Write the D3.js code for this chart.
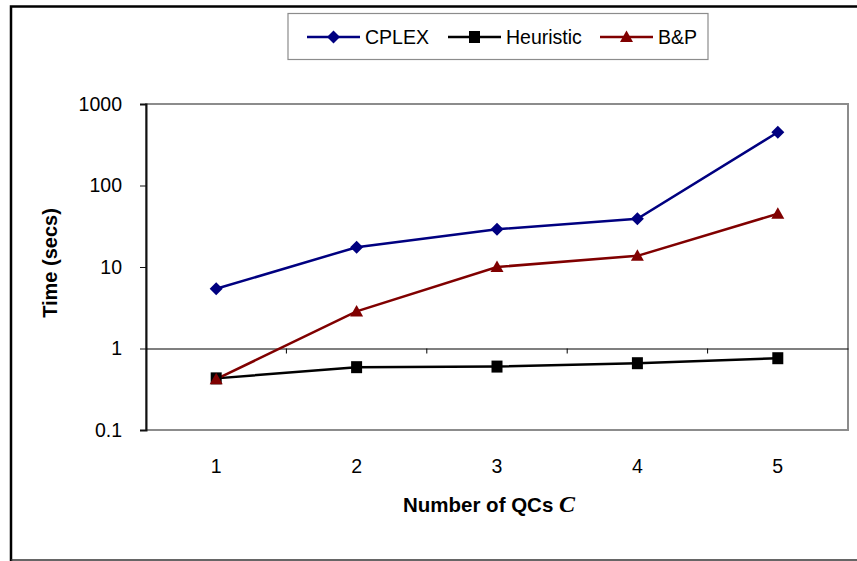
<!DOCTYPE html>
<html lang="en">
<head>
  <meta charset="UTF-8">
  <title>Time vs number of QCs</title>
  <script src="https://d3js.org/d3.v7.min.js"></script>
  <style>
    body { margin: 0; background: #fff; }
    text { font-family: Arial, "Liberation Sans", sans-serif; }
  </style>
</head>
<body>
  <script>
    // data
    let categories = [1, 2, 3, 4, 5]
    let cplex = [5.4, 17.5, 29, 39, 450]
    let heuristic = [0.43, 0.59, 0.6, 0.66, 0.76]
    let bp = [0.42, 2.85, 10, 13.7, 45]
    let yTicks = [0.1, 1, 10, 100, 1000]

    let series = [
      { name: 'CPLEX', values: cplex, color: '#000080', marker: 'diamond' },
      { name: 'Heuristic', values: heuristic, color: '#000000', marker: 'square' },
      { name: 'B&P', values: bp, color: '#800000', marker: 'triangle' }
    ]

    let W = 857, H = 561
    let svg = d3.select('body').append('svg')
      .attr('width', W)
      .attr('height', H)

    // outer chart frame
    svg.append('path')
      .attr('d', 'M11,' + (H + 5) + 'V6.5H' + (W + 5))
      .attr('fill', 'none').attr('stroke', '#000').attr('stroke-width', 2.5)
    svg.append('line')
      .attr('x1', 11).attr('x2', W + 5).attr('y1', 560).attr('y2', 560)
      .attr('stroke', '#333').attr('stroke-width', 1.5)

    let plotL = 146, plotR = 848, plotT = 104, plotB = 430

    let x = d3.scaleBand().domain(categories).range([plotL, plotR])
    let y = d3.scaleLog().domain([0.1, 1000]).range([plotB, plotT])

    // plot area border (grey)
    svg.append('rect')
      .attr('x', plotL).attr('y', plotT)
      .attr('width', plotR - plotL).attr('height', plotB - plotT)
      .attr('fill', 'none').attr('stroke', '#8c8c8c').attr('stroke-width', 2)

    // y axis
    let yAxis = svg.append('g')
      .attr('transform', 'translate(' + plotL + ',0)')
      .call(d3.axisLeft(y).tickValues(yTicks).tickSize(6).tickPadding(18)
        .tickFormat(d => d3.format('~g')(d)))
    yAxis.select('.domain').attr('stroke', '#111').attr('stroke-width', 2)
    yAxis.selectAll('.tick line').attr('stroke', '#111')
    yAxis.selectAll('text').attr('font-size', 19.5).attr('fill', '#000')

    // x axis crossing at y = 1
    let xAxis = svg.append('g')
      .attr('transform', 'translate(0,' + y(1) + ')')
      .call(d3.axisBottom(x).tickSize(0).tickFormat(''))
    xAxis.select('.domain').attr('stroke', '#000').attr('stroke-width', 1.2)
    // tick marks between categories
    svg.append('g').selectAll('line')
      .data(categories.slice(1))
      .enter().append('line')
      .attr('x1', d => x(d)).attr('x2', d => x(d))
      .attr('y1', y(1)).attr('y2', y(1) + 5)
      .attr('stroke', '#000')

    // category labels at the bottom
    svg.append('g').selectAll('text')
      .data(categories)
      .enter().append('text')
      .attr('x', d => x(d) + x.bandwidth() / 2)
      .attr('y', 473)
      .attr('text-anchor', 'middle')
      .attr('font-size', 19.5)
      .text(d => d)

    // lines
    let line = d3.line()
      .x((d, i) => x(categories[i]) + x.bandwidth() / 2)
      .y(d => y(d))

    series.forEach(s => {
      svg.append('path')
        .datum(s.values)
        .attr('d', line)
        .attr('fill', 'none')
        .attr('stroke', s.color)
        .attr('stroke-width', 2.5)
    })

    function markerPath(type) {
      if (type === 'diamond') return 'M0,-6.5L6.5,0L0,6.5L-6.5,0Z'
      if (type === 'square') return 'M-5.5,-6H5.5V6H-5.5Z'
      return 'M0,-6.5L6.5,5L-6.5,5Z'
    }

    series.forEach(s => {
      svg.append('g').selectAll('path')
        .data(s.values)
        .enter().append('path')
        .attr('d', markerPath(s.marker))
        .attr('transform', (d, i) => 'translate(' + (x(categories[i]) + x.bandwidth() / 2) + ',' + y(d) + ')')
        .attr('fill', s.color)
    })

    // axis titles
    svg.append('text')
      .attr('transform', 'translate(57,263) rotate(-90)')
      .attr('text-anchor', 'middle')
      .attr('font-size', 20)
      .attr('font-weight', 'bold')
      .text('Time (secs)')

    let xt = svg.append('text')
      .attr('x', 489).attr('y', 512)
      .attr('text-anchor', 'middle')
      .attr('font-size', 20.5)
      .attr('font-weight', 'bold')
    xt.append('tspan').text('Number of QCs ')
    xt.append('tspan')
      .attr('font-family', '"Liberation Serif", "DejaVu Serif", serif')
      .attr('font-style', 'italic')
      .attr('font-size', 24)
      .text('C')

    // legend
    svg.append('rect')
      .attr('x', 288).attr('y', 13.5)
      .attr('width', 420).attr('height', 46)
      .attr('fill', '#fff').attr('stroke', '#8c8c8c').attr('stroke-width', 1.2)

    let legendX = [307, 448, 600]
    let lg = svg.append('g').selectAll('g')
      .data(series)
      .enter().append('g')
      .attr('transform', (d, i) => 'translate(' + legendX[i] + ',37)')
    lg.append('line')
      .attr('x1', 0).attr('x2', 53)
      .attr('stroke', d => d.color).attr('stroke-width', 2.5)
    lg.append('path')
      .attr('d', d => markerPath(d.marker))
      .attr('transform', 'translate(26.5,0)')
      .attr('fill', d => d.color)
    lg.append('text')
      .attr('x', 58).attr('y', 7)
      .attr('font-size', 19.5)
      .text(d => d.name)
  </script>
</body>
</html>
